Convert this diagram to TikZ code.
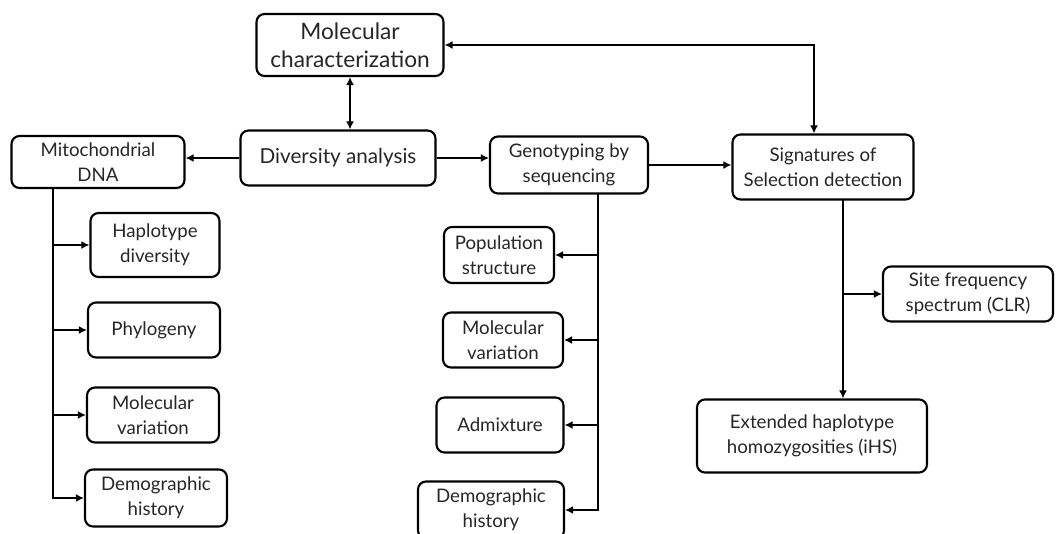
\documentclass[tikz,border=0pt]{standalone}
\usepackage{fontspec}
\setmainfont{Lato}
\usepackage{tikz}
\usetikzlibrary{arrows.meta,calc,positioning}
\def\px{0.75pt}
\tikzset{box/.style={draw,line width=1.6pt,rounded corners=6pt,align=center,
           inner sep=2pt,text=black!85,font=\fontsize{14}{19}\selectfont},
         bigbox/.style={box,font=\fontsize{17}{21}\selectfont},
         link/.style={line width=1.5pt},
         arr/.style={link,-{Latex[length=6pt,width=6pt]}},
         darr/.style={link,{Latex[length=6pt,width=6pt]}-{Latex[length=6pt,width=6pt]}}}

\begin{document}
\begin{tikzpicture}[x=\px,y=-\px]
\useasboundingbox (0,0) rectangle (1057,533);
% top row
\node[bigbox,minimum width=187*\px,minimum height=62*\px] (mol) at (350,45) {Molecular\\characterization};
\node[bigbox,font=\fontsize{15.5}{20}\selectfont,minimum width=195*\px,minimum height=55*\px] (div) at (338,158) {Diversity analysis};
\node[box,minimum width=173*\px,minimum height=52*\px] (mito) at (98,162) {Mitochondrial\\DNA};
\node[box,minimum width=158*\px,minimum height=57*\px] (gbs) at (569,165) {Genotyping by\\sequencing};
\node[box,minimum width=181*\px,minimum height=65*\px] (sig) at (823,167) {Signatures of\\Selection detection};
% mitochondrial branch
\node[box,minimum width=129*\px,minimum height=64*\px] (hap) at (155,245) {Haplotype\\diversity};
\node[box,minimum width=132*\px,minimum height=55*\px] (phy) at (154,330) {Phylogeny};
\node[box,minimum width=132*\px,minimum height=55*\px] (mvl) at (153,415) {Molecular\\variation};
\node[box,minimum width=142*\px,minimum height=57*\px] (dhl) at (156,498) {Demographic\\history};
% GBS branch
\node[box,minimum width=110*\px,minimum height=56*\px] (pop) at (499,255) {Population\\structure};
\node[box,minimum width=120*\px,minimum height=55*\px] (mvc) at (503,340) {Molecular\\variation};
\node[box,minimum width=127*\px,minimum height=55*\px] (adm) at (500,425) {Admixture};
\node[box,minimum width=146*\px,minimum height=57*\px] (dhc) at (491,510) {Demographic\\history};
% selection branch
\node[box,minimum width=170*\px,minimum height=55*\px] (sfs) at (968,294) {Site frequency\\spectrum (CLR)};
\node[box,minimum width=230*\px,minimum height=73*\px] (ehh) at (812,436) {Extended haplotype\\homozygosities (iHS)};
% connectors
\draw[darr] (mol.south) -- (mol.south |- div.north);
\draw[darr] (mol.east) -| ($(sig.north)+(-9,0)$);
\draw[arr] (div.west) -- (div.west -| mito.east);
\draw[arr] (div.east) -- (div.east -| gbs.west);
\draw[arr] (gbs.east) -- (gbs.east -| sig.west);
\coordinate (ltop) at (53,188);
\draw[arr] (ltop) |- (dhl.west);
\foreach \n in {hap,phy,mvl}
  \draw[arr] (ltop |- \n.west) -- (\n.west);
\coordinate (ctop) at (598,194);
\draw[arr] (ctop) |- (dhc.east);
\foreach \n in {pop,mvc,adm}
  \draw[arr] (ctop |- \n.east) -- (\n.east);
\coordinate (rtop) at (843,200);
\draw[arr] (rtop) -- (rtop |- ehh.north);
\draw[arr] (rtop |- sfs.west) -- (sfs.west);
\end{tikzpicture}
\end{document}
